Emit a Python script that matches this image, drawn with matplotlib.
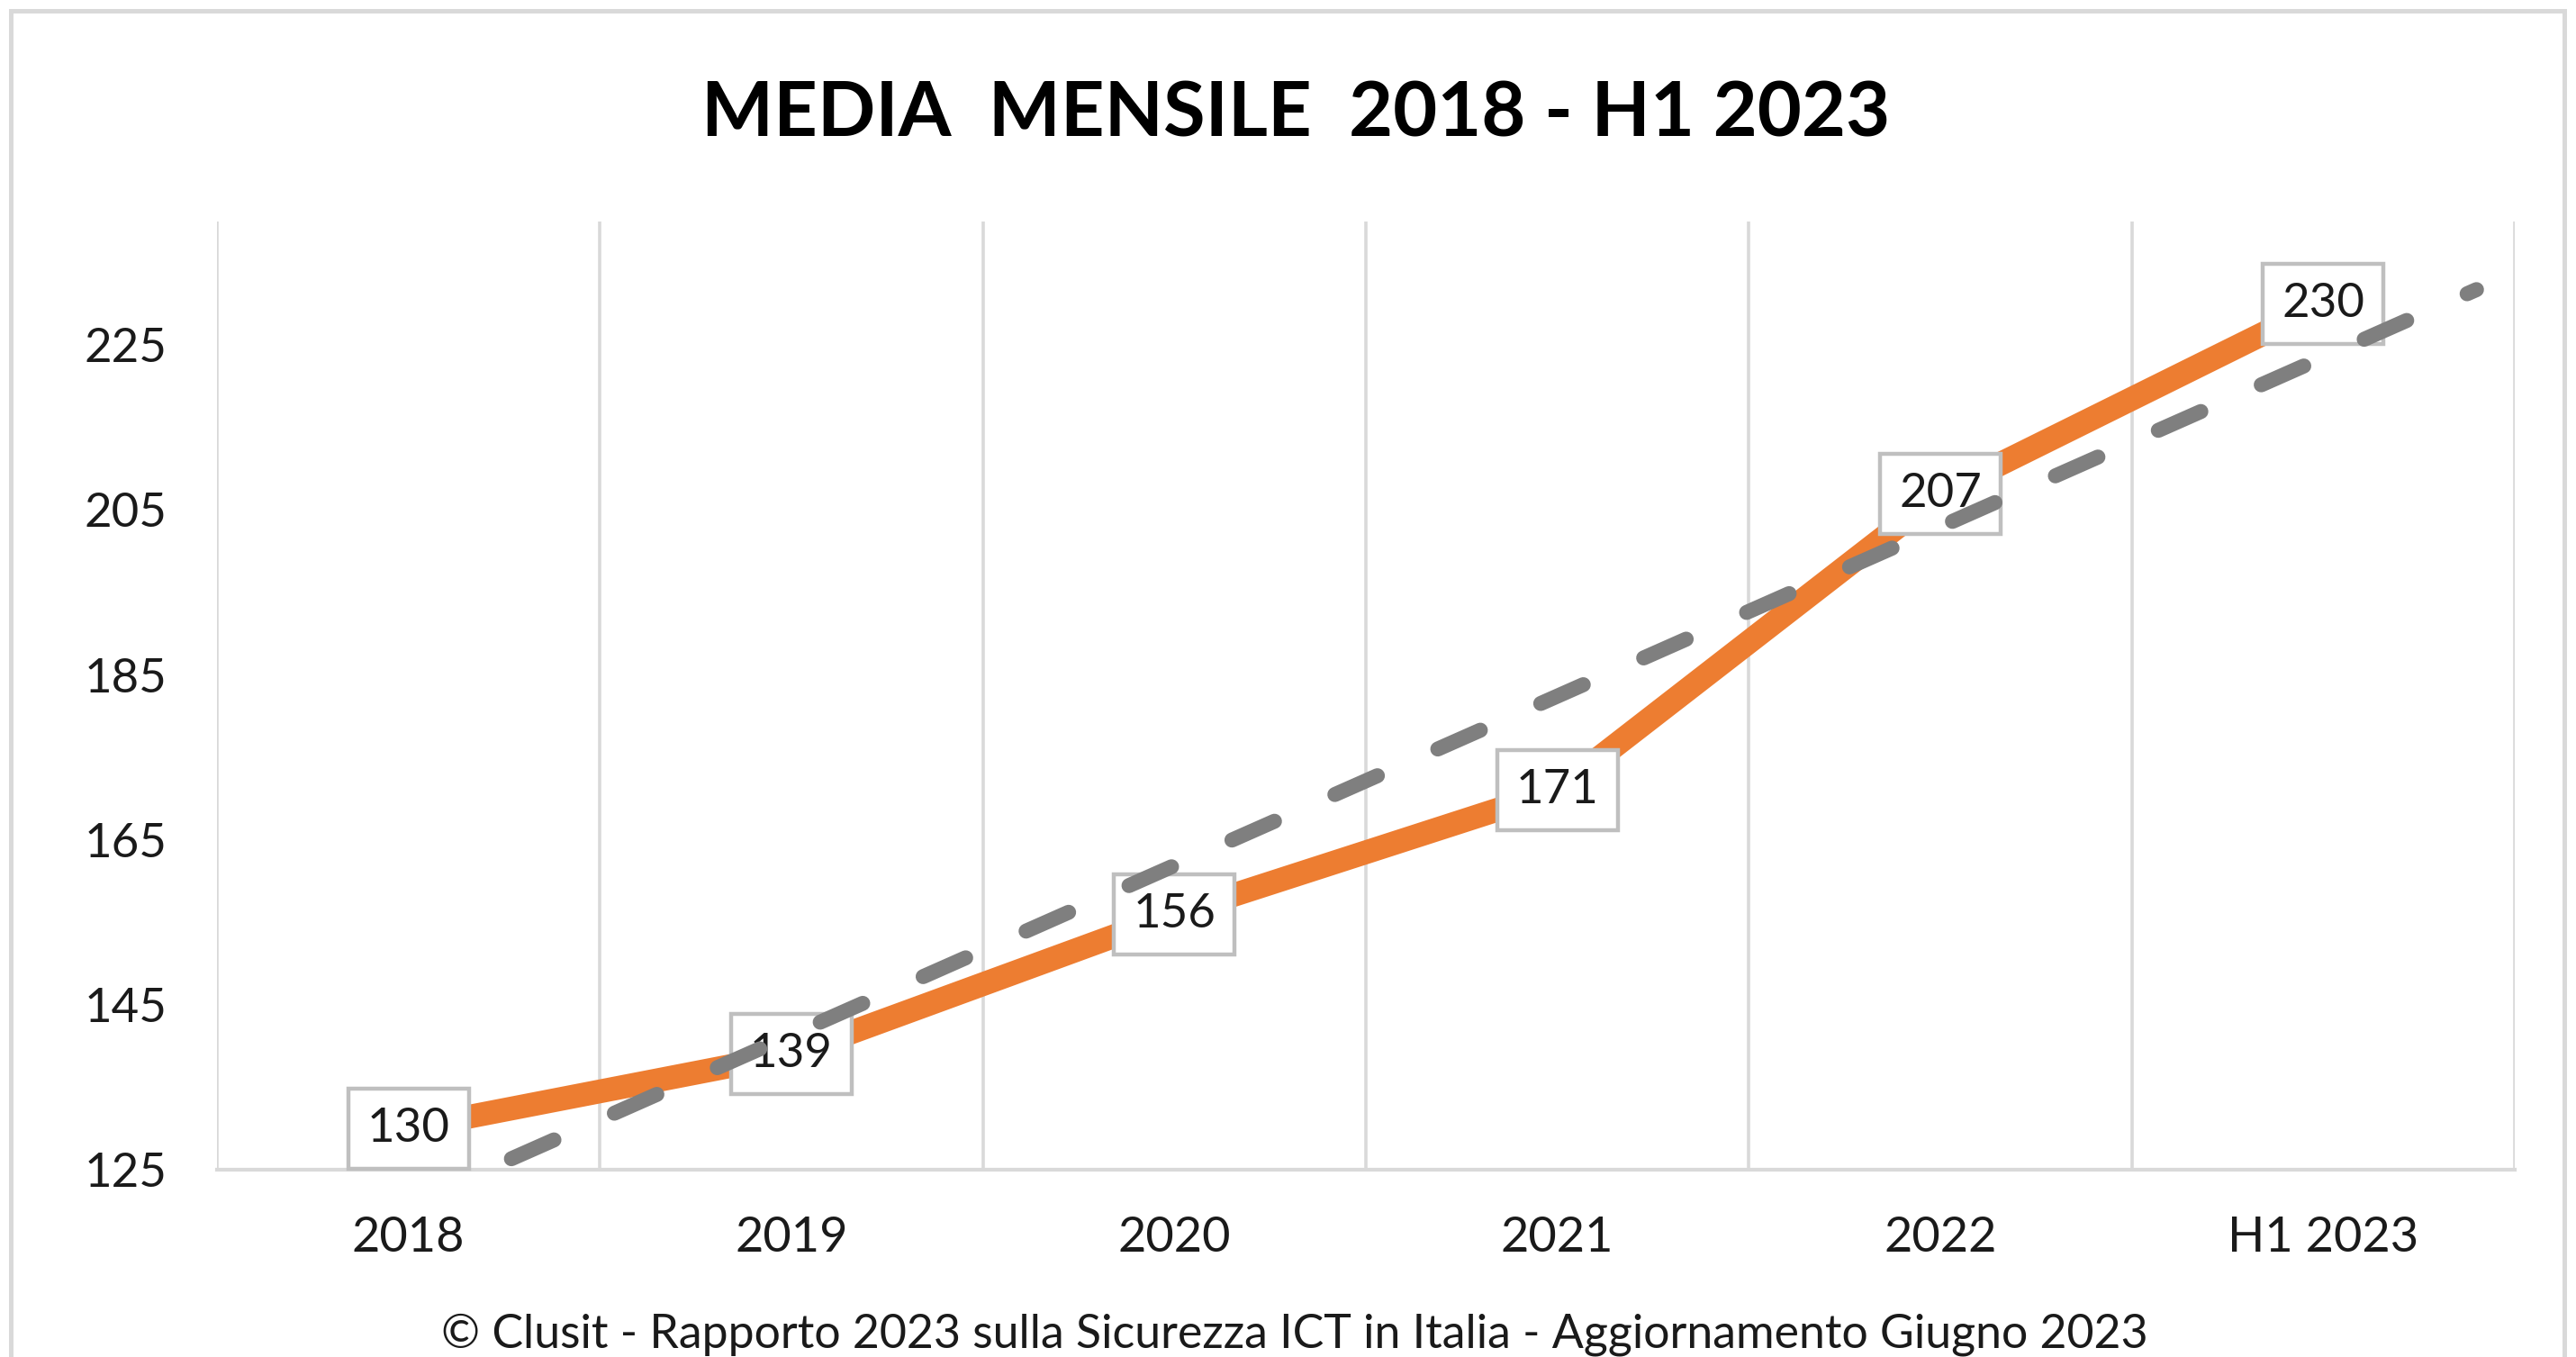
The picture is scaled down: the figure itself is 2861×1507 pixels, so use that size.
import numpy as np
import matplotlib
matplotlib.use("Agg")
import matplotlib.pyplot as plt
from matplotlib.patches import Rectangle

# ---- data ----
categories = ["2018", "2019", "2020", "2021", "2022", "H1 2023"]
values = [130, 139, 156, 171, 207, 230]
yticks = [125, 145, 165, 185, 205, 225]
title = "MEDIA  MENSILE  2018 - H1 2023"
footer = "© Clusit - Rapporto 2023 sulla Sicurezza ICT in Italia - Aggiornamento Giugno 2023"
trend_forward = 0.4

plt.rcParams['font.family'] = ['Lato', 'DejaVu Sans']

W, H, DPI = 2861, 1507, 200
fig = plt.figure(figsize=(W / DPI, H / DPI), dpi=DPI)
fig.patch.set_facecolor('white')

# outer border
fig.patches.append(Rectangle((12 / W, -0.05), (2848 - 12) / W, 1 - 12 / H + 0.05,
                             transform=fig.transFigure, fill=False,
                             edgecolor='#D9D9D9', linewidth=1.8, zorder=0))

ax = fig.add_axes([241 / W, 1 - 1299 / H, (2793 - 241) / W, (1299 - 246) / H])

x = np.arange(len(categories))
ax.plot(x, values, color='#ED7D31', linewidth=9.5, solid_capstyle='butt',
        solid_joinstyle='miter', zorder=3)

# linear trendline
slope, intercept = np.polyfit(x, values, 1)
xt = np.array([0, x[-1] + trend_forward])
ax.plot(xt, slope * xt + intercept, color='#7F7F7F', linewidth=6,
        linestyle=(0, (3.1, 4.4)), dash_capstyle='round', zorder=5)

# data labels
for xi, v in zip(x, values):
    ax.text(xi, v, str(v), ha='center', va='center', fontsize=19, color='#1a1a1a',
            zorder=4,
            bbox=dict(boxstyle='square,pad=0.4', facecolor='white',
                      edgecolor='#BFBFBF', linewidth=1.6))

ax.set_xlim(-0.5, len(categories) - 0.5)
ax.set_ylim(125, 240)
ax.set_xticks(x)
ax.set_xticklabels(categories)
ax.set_yticks(yticks)
ax.set_xticks(np.arange(-0.5, len(categories)), minor=True)
ax.grid(which='minor', axis='x', color='#D9D9D9', linewidth=1.3)
ax.grid(which='major', visible=False)
ax.tick_params(axis='both', which='both', length=0)
ax.tick_params(axis='x', pad=18.5, labelsize=19.5, labelcolor='#1a1a1a')
ax.tick_params(axis='y', pad=20, labelsize=19, labelcolor='#1a1a1a')
for s in ['left', 'right', 'top']:
    ax.spines[s].set_visible(False)
ax.spines['bottom'].set_color('#D9D9D9')
ax.spines['bottom'].set_linewidth(1.5)
ax.set_axisbelow(True)

fig.text(0.503, 1 - 151 / H, title, ha='center', va='baseline',
         fontsize=30.5, fontweight='bold', color='black')
fig.text(1438 / W, 11 / H, footer, ha='center', va='baseline',
         fontsize=18.7, color='#1a1a1a')

fig.savefig('out.png', dpi=DPI, facecolor='white')
